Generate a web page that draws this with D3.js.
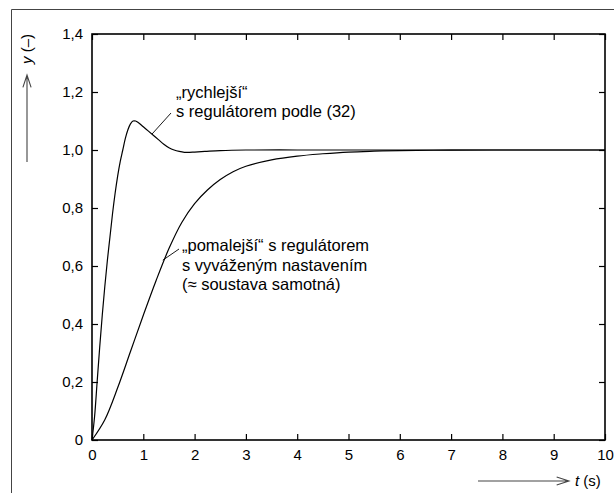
<!DOCTYPE html>
<html>
<head>
<meta charset="utf-8">
<script src="https://cdn.jsdelivr.net/npm/d3@7"></script>
<style>
  body { margin: 0; background: #fff; }
  text { font-family: "Liberation Sans", Arial, sans-serif; }
</style>
</head>
<body>
<svg id="chart" width="614" height="493"></svg>
<script>
// time axis (s)
const xTicks = [0, 1, 2, 3, 4, 5, 6, 7, 8, 9, 10];
const yTicks = [0, 0.2, 0.4, 0.6, 0.8, 1.0, 1.2, 1.4];

// "rychlejší" – step response with controller (32)
const fastT = [0, 0.05, 0.1, 0.15, 0.2, 0.25, 0.3, 0.35, 0.4, 0.45, 0.5, 0.55, 0.6, 0.65, 0.7, 0.75, 0.8, 0.85, 0.9, 1.0, 1.1, 1.2, 1.3, 1.4, 1.5, 1.6, 1.7, 1.8, 1.9, 2.0, 2.2, 2.5, 3.0, 4, 5, 6, 7, 8, 9, 10];
const fastY = [0, 0.08, 0.2, 0.32, 0.43, 0.53, 0.62, 0.7, 0.78, 0.85, 0.91, 0.96, 1.0, 1.04, 1.07, 1.09, 1.1, 1.1, 1.095, 1.08, 1.065, 1.05, 1.035, 1.02, 1.008, 1.0, 0.995, 0.992, 0.992, 0.993, 0.995, 0.998, 1.0, 1.0, 1.0, 1.0, 1.0, 1.0, 1.0, 1.0];

// "pomalejší" – balanced setting (~ plant alone)
const slowT = [0, 0.25, 0.5, 0.75, 1.0, 1.25, 1.5, 1.75, 2.0, 2.25, 2.5, 2.75, 3.0, 3.5, 4.0, 4.5, 5.0, 5.5, 6.0, 7.0, 8.0, 9.0, 10];
const slowY = [0, 0.07, 0.18, 0.305, 0.43, 0.55, 0.66, 0.75, 0.815, 0.862, 0.898, 0.925, 0.944, 0.966, 0.979, 0.987, 0.993, 0.996, 0.998, 0.9995, 1.0, 1.0, 1.0];

const svg = d3.select('#chart');
const grey = '#444';

const x = d3.scaleLinear().domain([0, 10]).range([92, 605]);
const y = d3.scaleLinear().domain([0, 1.4]).range([440, 34]);

const fmtY = d => d === 0 ? '0' : d3.format('.1f')(d).replace('.', ',');

// outer frame (only top and left edge visible)
svg.append('path')
  .attr('d', 'M11.5,493V9.5H614')
  .attr('fill', 'none')
  .attr('stroke', grey)
  .attr('stroke-width', 1);

// axes with inward ticks
const styleAxis = (g) => {
  g.select('.domain').remove();
  g.selectAll('line').attr('stroke', '#000').attr('stroke-width', 1.2);
  g.selectAll('text').attr('font-size', 15).attr('fill', '#000')
    .style('font-family', '"Liberation Sans", Arial, sans-serif');
};

svg.append('g')
  .attr('transform', `translate(0,${y(0)})`)
  .call(d3.axisBottom(x).tickValues(xTicks).tickSizeInner(-6).tickSizeOuter(0).tickPadding(9))
  .call(styleAxis);

svg.append('g')
  .attr('transform', `translate(0,${y(1.4)})`)
  .call(d3.axisTop(x).tickValues(xTicks).tickSizeInner(-6).tickSizeOuter(0).tickFormat(''))
  .call(styleAxis);

svg.append('g')
  .attr('transform', `translate(${x(0)},0)`)
  .call(d3.axisLeft(y).tickValues(yTicks).tickSizeInner(-6).tickSizeOuter(0).tickPadding(9).tickFormat(fmtY))
  .call(styleAxis);

svg.append('g')
  .attr('transform', `translate(${x(10)},0)`)
  .call(d3.axisRight(y).tickValues(yTicks).tickSizeInner(-6).tickSizeOuter(0).tickFormat(''))
  .call(styleAxis);

// plot frame
svg.append('rect')
  .attr('x', x(0)).attr('y', y(1.4))
  .attr('width', x(10) - x(0)).attr('height', y(0) - y(1.4))
  .attr('fill', 'none')
  .attr('stroke', '#000')
  .attr('stroke-width', 1.6);

// curves
const line = d3.line()
  .x(d => x(d[0]))
  .y(d => y(d[1]))
  .curve(d3.curveCatmullRom.alpha(0.5));

svg.append('path')
  .datum(d3.zip(slowT, slowY))
  .attr('d', line)
  .attr('fill', 'none')
  .attr('stroke', '#000')
  .attr('stroke-width', 1.2);

svg.append('path')
  .datum(d3.zip(fastT, fastY))
  .attr('d', line)
  .attr('fill', 'none')
  .attr('stroke', '#000')
  .attr('stroke-width', 1.2);

// annotations
const ann = svg.append('g').attr('font-size', 16.5).attr('fill', '#000');

ann.append('line')
  .attr('x1', x(1.17)).attr('y1', y(1.055))
  .attr('x2', 171).attr('y2', 113)
  .attr('stroke', '#000').attr('stroke-width', 0.9);

ann.append('text').attr('x', 176).attr('y', 98).text('„rychlejší“');
ann.append('text').attr('x', 176).attr('y', 117).text('s regulátorem podle (32)');

ann.append('line')
  .attr('x1', x(1.38)).attr('y1', y(0.62))
  .attr('x2', 179).attr('y2', 249)
  .attr('stroke', '#000').attr('stroke-width', 0.9);

const slowLabel = ['„pomalejší“ s regulátorem', 's vyváženým nastavením', '(≈ soustava samotná)'];
ann.selectAll('.slow')
  .data(slowLabel)
  .join('text')
  .attr('class', 'slow')
  .attr('x', 182)
  .attr('y', (d, i) => 251 + i * 19.5)
  .text(d => d);

// axis titles with arrows
const arrow = (x1, y1, x2, y2) => {
  const a = Math.atan2(y2 - y1, x2 - x1);
  const len = 13, w = 0.32;
  const p1 = [x2 - len * Math.cos(a - w), y2 - len * Math.sin(a - w)];
  const p2 = [x2 - len * Math.cos(a + w), y2 - len * Math.sin(a + w)];
  svg.append('path')
    .attr('d', `M${x1},${y1}L${x2},${y2}M${p1}L${x2},${y2}L${p2}`)
    .attr('fill', 'none')
    .attr('stroke', grey)
    .attr('stroke-width', 1.1);
};

arrow(478, 481, 569, 481);
const tl = svg.append('text').attr('x', 575).attr('y', 486).attr('font-size', 15);
tl.append('tspan').attr('font-style', 'italic').text('t');
tl.append('tspan').text(' (s)');

arrow(27, 162, 27, 75);
const yl = svg.append('text')
  .attr('transform', 'translate(32,64) rotate(-90)')
  .attr('font-size', 15);
yl.append('tspan').attr('font-style', 'italic').text('y');
yl.append('tspan').text(' (–)');
</script>
</body>
</html>
